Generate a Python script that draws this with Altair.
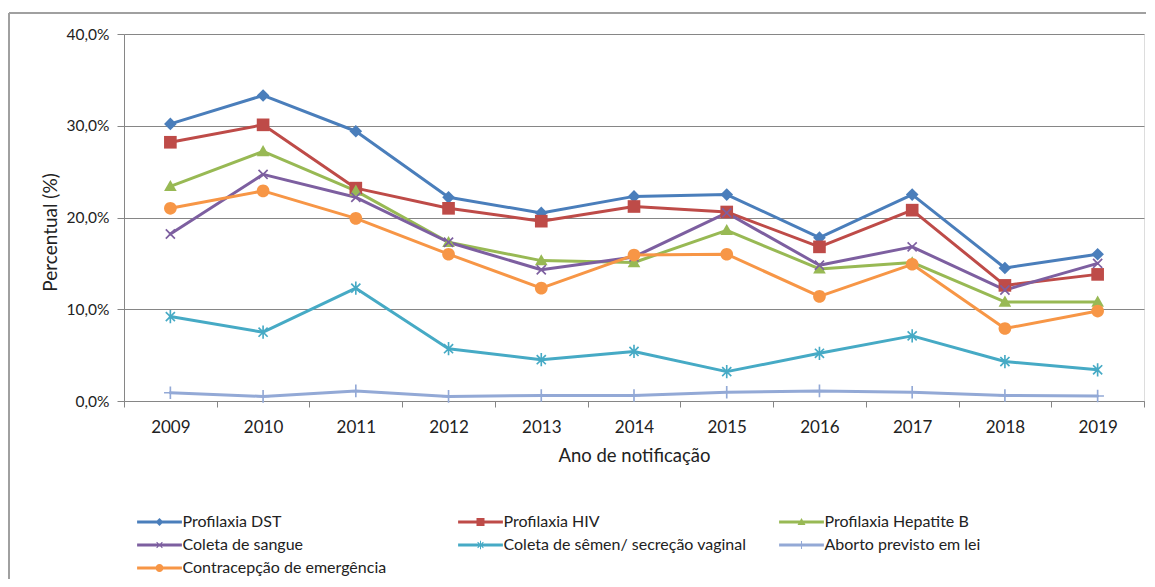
import altair as alt
import pandas as pd

anos = [2009, 2010, 2011, 2012, 2013, 2014, 2015, 2016, 2017, 2018, 2019]

profilaxia_dst = [30.2, 33.3, 29.4, 22.2, 20.5, 22.3, 22.5, 17.8, 22.5, 14.5, 16.0]
profilaxia_hiv = [28.2, 30.1, 23.2, 21.0, 19.6, 21.2, 20.6, 16.8, 20.8, 12.6, 13.8]
profilaxia_hepb = [23.4, 27.2, 22.9, 17.3, 15.3, 15.1, 18.6, 14.4, 15.1, 10.8, 10.8]
coleta_sangue = [18.2, 24.7, 22.2, 17.3, 14.3, 15.7, 20.5, 14.8, 16.8, 12.1, 15.0]
coleta_semen = [9.2, 7.5, 12.3, 5.7, 4.5, 5.4, 3.2, 5.2, 7.1, 4.3, 3.4]
aborto_lei = [0.9, 0.5, 1.1, 0.5, 0.6, 0.6, 0.95, 1.1, 0.95, 0.6, 0.55]
contracepcao = [21.0, 22.9, 19.9, 16.0, 12.3, 15.9, 16.0, 11.4, 14.9, 7.9, 9.8]

series_nomes = [
    "Profilaxia DST",
    "Profilaxia HIV",
    "Profilaxia Hepatite B",
    "Coleta de sangue",
    "Coleta de sêmen/ secreção vaginal",
    "Aborto previsto em lei",
    "Contracepção de emergência",
]
series_valores = [profilaxia_dst, profilaxia_hiv, profilaxia_hepb, coleta_sangue,
                  coleta_semen, aborto_lei, contracepcao]
cores = ["#4A7EBB", "#BE4B48", "#98B954", "#7D5FA0", "#46AAC5", "#93A9D6", "#F79646"]


def poly(pts):
    return "M" + "L".join(f"{x:.3f},{y:.3f}" for x, y in pts) + "Z"


w = 0.13
plus_pts = [(-1, -w), (-w, -w), (-w, -1), (w, -1), (w, -w), (1, -w),
            (1, w), (w, w), (w, 1), (-w, 1), (-w, w), (-1, w)]
x_pts = [((a - b) * 0.72, (a + b) * 0.72) for a, b in plus_pts]
SHAPE_DIAMOND = "M-1,0L0,-1L1,0L0,1Z"
SHAPE_SQUARE = "M-1,-1L1,-1L1,1L-1,1Z"
SHAPE_TRI = "M0,-1L1,0.75L-1,0.75Z"
SHAPE_X = poly(x_pts)
SHAPE_AST = poly(x_pts) + poly([(-w, -1.05), (w, -1.05), (w, 1.05), (-w, 1.05)])
SHAPE_PLUS = poly(plus_pts)
SHAPE_CIRCLE = "M1,0A1,1,0,1,1,-1,0A1,1,0,1,1,1,0Z"
formas = [SHAPE_DIAMOND, SHAPE_SQUARE, SHAPE_TRI, SHAPE_X, SHAPE_AST, SHAPE_PLUS, SHAPE_CIRCLE]

# legend symbols: line segment + marker in one filled path
BAR = "M-5.6,-0.375L5.6,-0.375L5.6,0.375L-5.6,0.375Z"
formas_legenda = [BAR + f for f in formas]

rows = []
for nome, vals in zip(series_nomes, series_valores):
    for ano, v in zip(anos, vals):
        rows.append({"serie": nome, "ano": ano, "valor": v})
df = pd.DataFrame(rows)

FONT = "Lato"
GRAY = "#868686"
TXT = "#222222"

W, H = 1020, 367

x_enc = alt.X(
    "ano:O",
    scale=alt.Scale(type="band", paddingInner=0, paddingOuter=0),
    axis=alt.Axis(
        title="Ano de notificação", tickBand="extent", labelAngle=0,
        grid=False, domainColor=GRAY, tickColor=GRAY, tickSize=6,
        labelFontSize=17, labelColor=TXT, labelPadding=12, labelFont=FONT,
        titleFontSize=18.5, titleFontWeight="normal", titleColor=TXT,
        titlePadding=11, titleFont=FONT,
    ),
)
y_enc = alt.Y(
    "valor:Q",
    scale=alt.Scale(domain=[0, 40], nice=False),
    axis=alt.Axis(
        title="Percentual (%)", values=[0, 10, 20, 30, 40],
        labelExpr="replace(format(datum.value, '.1f'), '.', ',') + '%'",
        grid=True, gridColor=GRAY, gridWidth=1, domainColor=GRAY,
        tickColor=GRAY, tickSize=7, labelFontSize=15.5, labelColor=TXT,
        labelPadding=8, labelFont=FONT, titleFontSize=19,
        titleFontWeight="normal", titleColor=TXT, titlePadding=6, titleFont=FONT,
        titleY=198,
    ),
)

legenda = alt.Legend(
    title=None, orient="none", legendX=13, legendY=480, columns=3,
    direction="horizontal",
    gridAlign="all", columnPadding=32, rowPadding=7, padding=0,
    labelFontSize=16, labelFont=FONT, labelColor=TXT, labelLimit=400,
    symbolSize=64, symbolOffset=14.5, labelOffset=15, symbolStrokeWidth=0,
    symbolOpacity=1,
)

base = alt.Chart(df)

lines = base.mark_line(strokeWidth=3, strokeJoin="round", strokeCap="round").encode(
    x=x_enc, y=y_enc,
    color=alt.Color("serie:N", scale=alt.Scale(domain=series_nomes, range=cores),
                    sort=series_nomes, legend=None),
)

points = base.mark_point(filled=True, size=160, opacity=1).encode(
    x=x_enc, y=y_enc,
    color=alt.Color("serie:N", scale=alt.Scale(domain=series_nomes, range=cores),
                    sort=series_nomes, legend=None),
    shape=alt.Shape("serie:N", scale=alt.Scale(domain=series_nomes, range=formas),
                    sort=series_nomes, legend=None),
)

# legend-only layer (no rows drawn), same series and colours
legend_layer = base.transform_filter("false").mark_point(filled=True, opacity=1).encode(
    x=x_enc, y=y_enc,
    color=alt.Color("serie:N", scale=alt.Scale(domain=series_nomes, range=cores),
                    sort=series_nomes, legend=legenda),
    shape=alt.Shape("serie:N", scale=alt.Scale(domain=series_nomes, range=formas_legenda),
                    sort=series_nomes, legend=legenda),
)

frame_df = pd.DataFrame({"k": [0]})
frame_top = alt.Chart(frame_df).mark_rule(color="#A0A0A0", strokeWidth=2).encode(
    x=alt.value(-115), x2=alt.value(W + 30), y=alt.value(-21)
)
frame_left = alt.Chart(frame_df).mark_rule(color="#A0A0A0", strokeWidth=2).encode(
    x=alt.value(-115), y=alt.value(-21), y2=alt.value(H + 200)
)

chart = (
    alt.layer(frame_top, frame_left, lines, points, legend_layer)
    .resolve_scale(color="independent", shape="independent")
    .resolve_legend(color="independent", shape="independent")
    .properties(
        width=W, height=H, autosize="none",
        padding={"left": 116, "top": 26, "right": 2, "bottom": 178},
        background="white",
    )
    .configure_view(stroke=None)
    .configure(font=FONT)
)

chart.save("out.html", embed_options={"renderer": "svg", "actions": False})
